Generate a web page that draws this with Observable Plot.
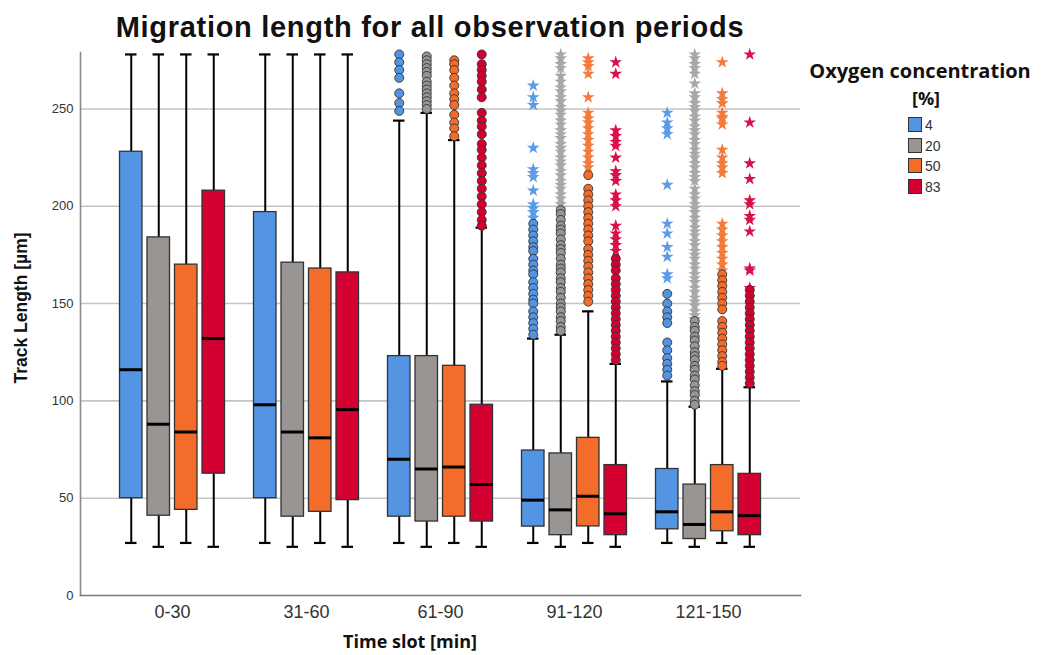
<!DOCTYPE html>
<html><head><meta charset="utf-8">
<script src="https://cdn.jsdelivr.net/npm/d3@7"></script>
<script src="https://cdn.jsdelivr.net/npm/@observablehq/plot@0.6"></script>
<style>
body{margin:0;background:#fff;}
#wrap{position:relative;width:1041px;height:655px;overflow:hidden;font-family:"Liberation Sans",Arial,sans-serif;background:#fff;}
#wrap svg{position:absolute;left:0;top:0;}
.t{position:absolute;white-space:nowrap;line-height:1;}
.sw{position:absolute;width:12px;height:13px;border:1px solid #333;}
</style></head><body><div id="wrap"></div>
<script>
// ---- data ----
const groups = ["0-30", "31-60", "61-90", "91-120", "121-150"];
const series = ["4", "20", "50", "83"];
const colors = ["#5394e3", "#999593", "#f36c2a", "#d50032"];
const starColors = ["#5b9be8", "#aaa7a5", "#f37a3c", "#d8114a"];
const yTicks = [0, 50, 100, 150, 200, 250];

// per series (rows: 4, 20, 50, 83) x per time slot
const whiskerLow = [
  [27, 27, 27, 27, 27],
  [25, 25, 25, 25, 25],
  [27, 27, 27, 27, 27],
  [25, 25, 25, 25, 25]
];
const q1 = [
  [50, 50, 40.5, 35.4, 34],
  [41, 40.5, 38, 31, 29],
  [44, 43, 40.5, 35.5, 33],
  [62.6, 49, 38, 31, 31]
];
const median = [
  [116, 98, 70, 49, 43],
  [88, 84, 65, 44, 36.5],
  [84, 81, 66, 51, 43],
  [132, 95.5, 57, 42, 41]
];
const q3 = [
  [228, 197, 123, 74.5, 65],
  [184, 171, 123, 73, 57],
  [170, 168, 118, 81, 67],
  [208, 166, 98, 67, 62.5]
];
const whiskerHigh = [
  [278, 278, 244, 132, 110],
  [278, 278, 248, 134, 97],
  [278, 278, 234, 146, 116.5],
  [278, 278, 189, 119, 107]
];

// outliers (circles) per time slot
const circles4 = [[], [],
  [278, 274, 270, 266, 258, 253, 249],
  [191, 188, 185, 182, 179, 177, 173, 170, 167, 165, 161, 158, 155, 152, 150, 146, 143, 140, 137, 134],
  [155, 150, 146, 143, 140, 130, 126, 122, 119, 116, 113]];
const circles20 = [[], [],
  [277, 275, 273, 271, 269, 267, 264, 262, 260, 258, 256, 254, 252, 250],
  [198, 196, 193, 190, 188, 186, 183, 180, 178, 176, 173, 170, 168, 166, 163, 161, 158, 156, 153, 150, 148, 146, 143, 141, 138, 136],
  [141, 138, 136, 133, 131, 128, 125, 123, 121, 118, 116, 113, 111, 108, 105, 103, 100, 98]];
const circles50 = [[], [],
  [275, 273, 270, 266, 262, 258, 255, 252, 247, 243, 240, 236],
  [216, 209, 206, 203, 200, 197, 194, 191, 188, 185, 182, 178, 175, 172, 169, 166, 163, 160, 157, 154, 151],
  [165, 162, 159, 156, 153, 150, 147, 141, 138, 135, 132, 129, 126, 123, 120, 118]];
const circles83 = [[], [],
  [278, 273, 270, 267, 264, 260, 256, 248, 244, 241, 237, 232, 229, 225, 221, 217, 213, 209, 205, 201, 197, 193, 190],
  [173, 170, 167, 163, 160, 157, 154, 151, 148, 145, 142, 139, 136, 133, 130, 127, 124, 121],
  [157, 154, 151, 148, 145, 142, 139, 136, 133, 130, 127, 124, 121, 118, 115, 112, 109]];

// extremes (stars) per time slot
const stars4 = [[], [], [],
  [262, 256, 252, 230, 219, 217, 215, 208, 201, 199, 197, 194],
  [248, 243, 240, 237, 211, 191, 186, 179, 174, 165, 163]];
const stars20 = [[], [], [],
  [278, 276, 273, 271, 267, 264, 261, 259, 256, 254, 251, 249, 247, 244, 242, 239, 237, 235, 232, 230, 228, 225, 223, 221, 218, 216, 213, 211, 209, 206, 204, 201, 199],
  [278, 276, 273, 271, 268, 263, 258, 256, 253, 251, 249, 246, 244, 241, 239, 237, 234, 232, 229, 227, 225, 222, 220, 217, 215, 213, 209, 206, 204, 201, 199, 197, 194, 192, 189, 187, 185, 182, 180, 177, 175, 173, 170, 168, 165, 163, 161, 158, 156, 153, 151, 149, 146, 144, 142]];
const stars50 = [[], [], [],
  [276, 274, 272, 268, 256, 248, 245, 243, 240, 237, 234, 231, 228, 225, 222, 220],
  [274, 258, 255, 253, 248, 246, 245, 242, 229, 225, 222, 220, 217, 191, 188, 185, 182, 179, 176, 173, 170, 167]];
const stars83 = [[], [], [],
  [274, 268, 239, 236, 233, 231, 225, 218, 216, 213, 206, 203, 200, 190, 186, 183, 180, 177],
  [278, 243, 222, 214, 203, 201, 195, 193, 187, 168, 167, 158]];

// ---- build tables ----
const circleSets = [circles4, circles20, circles50, circles83];
const starSets = [stars4, stars20, stars50, stars83];
const boxRows = [];
series.forEach((s, si) => groups.forEach((g, gi) => boxRows.push({
  series: s, si, group: g,
  lo: whiskerLow[si][gi], q1: q1[si][gi], med: median[si][gi], q3: q3[si][gi], hi: whiskerHigh[si][gi]
})));
function flat(sets, si) {
  const out = [];
  sets[si].forEach((vals, gi) => vals.forEach(v => out.push({group: groups[gi], v})));
  return out;
}

// ---- layout / style constants ----
const band = 134.5;
const offsets = [-41.25, -13.75, 13.75, 41.25];
const boxInset = (band - 23) / 2;
const capInset = (band - 12) / 2;

const marks = [
  Plot.gridY(yTicks.filter(d => d > 0), {stroke: "#c4c4c4", strokeOpacity: 1, strokeWidth: 1.6}),
  Plot.frame({anchor: "left", stroke: "#8a8a8a", strokeWidth: 1.6}),
  Plot.frame({anchor: "bottom", stroke: "#7a7a7a", strokeWidth: 1.6}),
  Plot.axisY({ticks: yTicks, tickSize: 0, tickPadding: 7, fontSize: 13, color: "#333", label: null}),
  Plot.axisX({tickSize: 0, tickPadding: 10, fontSize: 18, color: "#333", label: null})
];
series.forEach((s, si) => {
  const d = boxRows.filter(r => r.si === si);
  const dx = offsets[si];
  marks.push(
    Plot.ruleX(d, {x: "group", y1: "q3", y2: "hi", dx, stroke: "#000", strokeWidth: 2}),
    Plot.ruleX(d, {x: "group", y1: "lo", y2: "q1", dx, stroke: "#000", strokeWidth: 2}),
    Plot.tickY(d, {x: "group", y: "hi", dx, stroke: "#000", strokeWidth: 2.2, insetLeft: capInset, insetRight: capInset}),
    Plot.tickY(d, {x: "group", y: "lo", dx, stroke: "#000", strokeWidth: 2.2, insetLeft: capInset, insetRight: capInset}),
    Plot.barY(d, {x: "group", y1: "q1", y2: "q3", dx, fill: colors[si], stroke: "#333", strokeWidth: 1.3, insetLeft: boxInset, insetRight: boxInset}),
    Plot.tickY(d, {x: "group", y: "med", dx, stroke: "#000", strokeWidth: 3, insetLeft: boxInset, insetRight: boxInset})
  );
});
series.forEach((s, si) => {
  const dx = offsets[si];
  marks.push(
    Plot.dot(flat(starSets, si), {x: "group", y: "v", dx, symbol: "star", r: 4, fill: starColors[si], stroke: "none"}),
    Plot.dot(flat(circleSets, si), {x: "group", y: "v", dx, r: 4.5, fill: colors[si], stroke: "#333", strokeWidth: 0.9})
  );
});

const chart = Plot.plot({
  width: 1041, height: 655,
  marginLeft: 80, marginRight: 241, marginTop: 52, marginBottom: 60,
  x: {type: "band", domain: groups, range: [171 - band / 2, 171 + band * 4.5], padding: 0},
  y: {domain: [0, 279]},
  style: {fontFamily: "Liberation Sans, Arial, sans-serif", background: "white"},
  marks
});
const wrap = document.getElementById("wrap");
wrap.appendChild(chart);

function addText(txt, css) {
  const el = document.createElement("div");
  el.className = "t";
  el.textContent = txt;
  Object.assign(el.style, css);
  wrap.appendChild(el);
  return el;
}
addText("Migration length for all observation periods", {left: "430px", top: "27px", fontSize: "29px", letterSpacing: "0.7px", fontWeight: "bold", color: "#111", transform: "translate(-50%,-50%)"});
addText("Track Length [µm]", {left: "22px", top: "308px", fontSize: "17.5px", fontWeight: "bold", color: "#111", transform: "translate(-50%,-50%) rotate(-90deg)"});
addText("Time slot [min]", {left: "410px", top: "641px", fontSize: "18px", fontWeight: "bold", color: "#111", fontFamily: "'Open Sans', sans-serif", transform: "translate(-50%,-50%)"});
addText("Oxygen concentration", {left: "920px", top: "71px", fontSize: "20px", fontWeight: "bold", color: "#111", fontFamily: "'Open Sans', sans-serif", transform: "translate(-50%,-50%)"});
addText("[%]", {left: "926px", top: "98px", fontSize: "18px", fontWeight: "bold", color: "#111", fontFamily: "'Open Sans', sans-serif", transform: "translate(-50%,-50%)"});
series.forEach((s, i) => {
  const top = 117 + i * 20.5;
  const sw = document.createElement("div");
  sw.className = "sw";
  sw.style.left = "908px"; sw.style.top = top + "px"; sw.style.background = colors[i];
  wrap.appendChild(sw);
  addText(s, {left: "925px", top: (top + 1) + "px", fontSize: "14px", color: "#333"});
});
</script>
</body></html>
